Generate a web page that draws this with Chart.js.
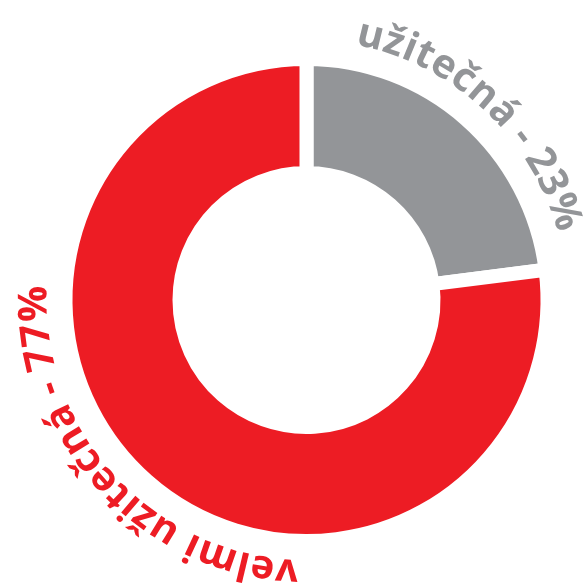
<!DOCTYPE html>
<html>
<head>
<meta charset="utf-8">
<script src="https://cdn.jsdelivr.net/npm/chart.js@4"></script>
<style>
  html, body { margin: 0; padding: 0; background: #fff; }
</style>
</head>
<body>
<canvas id="usefulChart" width="586" height="587"></canvas>
<script>
const labels = ['užitečná', 'velmi užitečná'];
const values = [23, 77];
const colors = ['#939598', '#ED1C24'];

// extra shift of each label along the ring (degrees), 0 = centred on its slice
const labelShift = [1.5, 6];

// curved labels round the outside of the ring
const arcLabels = {
    id: 'arcLabels',
    afterDraw(chart, args, opts) {
        const ctx = chart.ctx;
        const arcs = chart.getDatasetMeta(0).data;
        ctx.save();
        ctx.font = opts.font;
        ctx.textAlign = 'center';
        ctx.textBaseline = 'alphabetic';
        arcs.forEach((arc, i) => {
            const {x, y, startAngle, endAngle, outerRadius} = arc.getProps(['x', 'y', 'startAngle', 'endAngle', 'outerRadius'], true);
            const r = outerRadius + opts.gap;
            const text = labels[i] + ' - ' + values[i] + '%';
            const chars = Array.from(text);
            const widths = chars.map(c => ctx.measureText(c).width + opts.spacing);
            const total = widths.reduce((a, b) => a + b, 0);
            // canvas angle -> clockwise-from-top angle
            let mid = (startAngle + endAngle) / 2 + Math.PI / 2 + labelShift[i] * Math.PI / 180;
            let a = mid - total / 2 / r;
            ctx.fillStyle = colors[i];
            chars.forEach((c, k) => {
                const step = widths[k] / r;
                const ang = a + step / 2;
                ctx.save();
                ctx.translate(x + r * Math.sin(ang), y - r * Math.cos(ang));
                ctx.rotate(ang);
                ctx.fillText(c, 0, 0);
                ctx.restore();
                a += step;
            });
        });
        ctx.restore();
    }
};

const data = {
    labels: labels,
    datasets: [{
        data: values,
        backgroundColor: colors,
        borderColor: '#ffffff',
        borderWidth: 14,
        hoverOffset: 0
    }]
};

const config = {
    type: 'doughnut',
    data,
    options: {
        responsive: false,
        animation: false,
        radius: 241,
        cutout: '52.7%',
        layout: {
            padding: { left: 27, top: 13 }
        },
        plugins: {
            legend: { display: false },
            tooltip: { enabled: false },
            arcLabels: {
                font: 'bold 40px "Open Sans", "Noto Sans", sans-serif',
                gap: 19,
                spacing: 0.5
            }
        }
    },
    plugins: [arcLabels]
};

const usefulChart = new Chart(
    document.getElementById('usefulChart'),
    config
);
</script>
</body>
</html>
